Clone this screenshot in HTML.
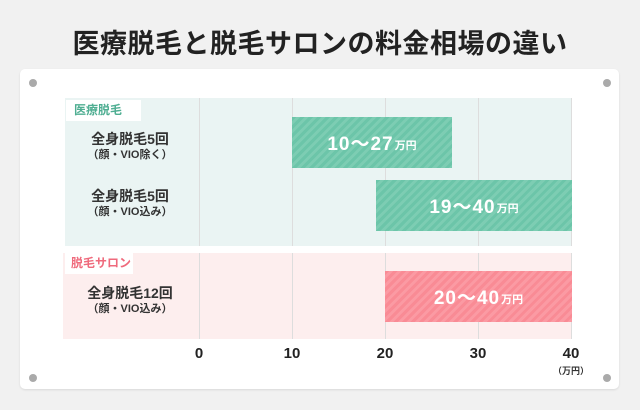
<!DOCTYPE html>
<html><head><meta charset="utf-8"><style>
*{margin:0;padding:0;box-sizing:border-box}
body{width:640px;height:410px;background:#f1f1f1;position:relative;overflow:hidden;font-family:"Liberation Sans","Noto Sans CJK JP",sans-serif;}
.a{position:absolute}
.title{left:0;width:640px;top:22px;text-align:center;font-size:27px;font-weight:bold;color:#222;letter-spacing:0.5px}
.card{left:20px;top:69px;width:599px;height:320px;background:#fff;border-radius:5px;box-shadow:0 1px 2px rgba(0,0,0,.1)}
.dot{width:8px;height:8px;border-radius:50%;background:#aaa}
.gl{width:1px;background:#ddd}
.tag{background:#fff;font-size:12px;font-weight:bold;padding-left:8px;line-height:21px;white-space:nowrap}
.lab{text-align:center;color:#333;font-weight:bold;font-size:14px;line-height:17px}
.lab small{display:block;font-size:11px;font-weight:bold;line-height:14px}
.bar{color:#fff;font-weight:bold;font-size:19px;letter-spacing:1px;display:flex;align-items:center;justify-content:center}
.bar span{font-size:11px;margin-left:1px;margin-top:4px;letter-spacing:0}
.g{background:repeating-linear-gradient(135deg,#6cc5a9 0 3px,#7dcdb3 3px 6px)}
.p{background:repeating-linear-gradient(135deg,#f98b95 0 3px,#fb9aa3 3px 6px)}
.tk{font-size:15px;font-weight:bold;color:#222;width:40px;text-align:center;top:345px}
</style></head><body>
<div class="a title">医療脱毛と脱毛サロンの料金相場の違い</div>
<div class="a card"></div>
<div class="a dot" style="left:29px;top:79px"></div>
<div class="a dot" style="left:603px;top:79px"></div>
<div class="a dot" style="left:29px;top:374px"></div>
<div class="a dot" style="left:603px;top:374px"></div>
<div class="a" style="left:65px;top:98px;width:507px;height:148px;background:#eaf4f3"></div>
<div class="a" style="left:63px;top:253px;width:509px;height:86px;background:#fdeeee"></div>
<div class="a gl" style="left:199px;top:98px;height:241px"></div>
<div class="a gl" style="left:292px;top:98px;height:241px"></div>
<div class="a gl" style="left:385px;top:98px;height:241px"></div>
<div class="a gl" style="left:478px;top:98px;height:241px"></div>
<div class="a gl" style="left:571px;top:98px;height:241px"></div>
<div class="a" style="left:63px;top:246px;width:509px;height:7px;background:#fff"></div>
<div class="a tag" style="left:66px;top:100px;width:75px;color:#4fae92">医療脱毛</div>
<div class="a tag" style="left:65px;top:253px;width:68px;color:#ef6a7c;padding-left:6px">脱毛サロン</div>
<div class="a lab" style="left:65px;top:131px;width:130px">全身脱毛5回<small>（顔・VIO除く）</small></div>
<div class="a lab" style="left:65px;top:188px;width:130px">全身脱毛5回<small>（顔・VIO込み）</small></div>
<div class="a lab" style="left:65px;top:285px;width:130px">全身脱毛12回<small>（顔・VIO込み）</small></div>
<div class="a bar g" style="left:292px;top:117px;width:160px;height:51px">10～27<span>万円</span></div>
<div class="a bar g" style="left:376px;top:180px;width:196px;height:51px">19～40<span>万円</span></div>
<div class="a bar p" style="left:385px;top:271px;width:187px;height:51px">20～40<span>万円</span></div>
<div class="a tk" style="left:179px">0</div>
<div class="a tk" style="left:272px">10</div>
<div class="a tk" style="left:365px">20</div>
<div class="a tk" style="left:458px">30</div>
<div class="a tk" style="left:551px">40</div>
<div class="a" style="left:551px;top:364px;width:40px;text-align:center;font-size:9px;font-weight:bold;color:#333">（万円）</div>
</body></html>
